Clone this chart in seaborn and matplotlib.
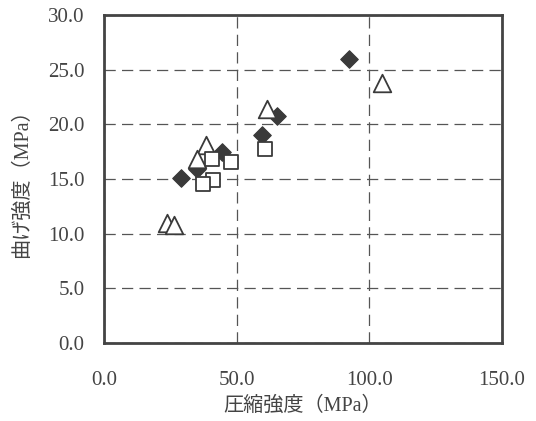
import matplotlib
matplotlib.use("Agg")
import matplotlib.pyplot as plt
import seaborn as sns
import pandas as pd

# Compressive strength (MPa) vs. flexural strength (MPa), three mix series
diamond_x = [92.5, 65.1, 59.7, 44.6, 34.9, 28.9]
diamond_y = [26.0, 20.8, 19.0, 17.5, 15.9, 15.1]

triangle_x = [104.7, 61.3, 38.4, 35.2, 23.9, 26.4]
triangle_y = [23.8, 21.4, 18.1, 16.8, 11.0, 10.8]

square_x = [60.6, 40.8, 47.7, 41.0, 37.4]
square_y = [17.7, 16.8, 16.6, 14.9, 14.5]

x_ticks = [0.0, 50.0, 100.0, 150.0]
y_ticks = [0.0, 5.0, 10.0, 15.0, 20.0, 25.0, 30.0]

x_label = "圧縮強度（MPa）"
y_label = "曲げ強度（MPa）"

sns.set_style("white")
plt.rcParams["font.family"] = ["Liberation Serif", "Noto Sans CJK JP"]

fig = plt.figure(figsize=(5.36, 4.21), dpi=100)
ax = fig.add_axes([104 / 536, 1 - 343 / 421, 398 / 536, 328 / 421])

ink = "#3a3a3a"

sns.scatterplot(x=diamond_x, y=diamond_y, ax=ax, marker="D", s=80,
                color=ink, edgecolor=ink, linewidth=0.8, zorder=3)
sns.scatterplot(x=triangle_x, y=triangle_y, ax=ax, marker="^", s=160,
                facecolor="white", edgecolor=ink, linewidth=1.3, zorder=3)
sns.scatterplot(x=square_x, y=square_y, ax=ax, marker="s", s=100,
                facecolor="white", edgecolor=ink, linewidth=1.3, zorder=3)

ax.set_xlim(0, 150)
ax.set_ylim(0, 30)
ax.set_xticks(x_ticks)
ax.set_yticks(y_ticks)
ax.set_xticklabels([f"{v:.1f}" for v in x_ticks])
ax.set_yticklabels([f"{v:.1f}" for v in y_ticks])
ax.tick_params(axis="both", length=0, labelsize=15, colors="#444444")
ax.tick_params(axis="x", pad=20)
ax.tick_params(axis="y", pad=14)

ax.grid(True, color="#555555", linestyle=(0, (9, 5)), linewidth=0.9)
ax.set_axisbelow(True)

for sp in ax.spines.values():
    sp.set_color("#444444")
    sp.set_linewidth(2.0)

ax.set_xlabel(x_label, fontsize=14.5, color="#444444", labelpad=5)
ax.set_ylabel(y_label, fontsize=14.5, color="#444444", labelpad=12)

fig.savefig("out.png", dpi=100)
